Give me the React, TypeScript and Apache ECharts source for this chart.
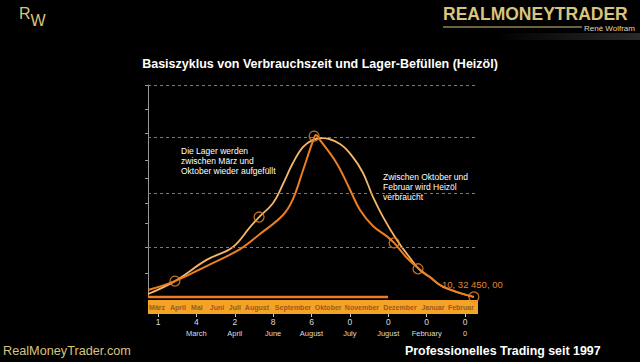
import React, { useEffect, useRef } from "react";
import * as echarts from "echarts";

// month band labels (x axis of the plot, in month units)
const months = ["März", "April", "Mai", "Juni", "Juli", "August", "September", "Oktober", "November", "Dezember", "Januar", "Februar"];
const monthTickAt = [0.33, 1.09, 1.78, 2.51, 3.16, 3.96, 5.27, 6.55, 7.78, 9.16, 10.36, 11.38];

// lower tick row
const tickTop = ["1", "4", "2", "8", "6", "0", "0", "0", "0"];
const tickBottom = ["", "March", "April", "June", "August", "July", "Jugust", "February", "0"];

// y axis tick values and dashed grid levels
const yTicks = [100, 88.7, 77.4, 64.6, 56.1, 44.3, 34.9, 23.6, 11.3];
const gridLevels = [23.6, 49.1, 75.5, 100];

// curves [month, level]
const darkCurve = [
  [0, 3.3], [0.98, 7.5], [2.13, 14.6], [3.35, 22.6], [4.07, 29.7], [4.91, 38.7], [5.27, 46.2],
  [5.64, 59.9], [6.0, 73.6], [6.11, 76.4], [6.25, 74.1], [6.86, 63.1], [7.35, 50.5], [7.71, 41.0],
  [8.18, 33.5], [8.69, 28.6], [8.95, 25.5], [9.42, 18.4], [9.82, 13.7], [10.25, 9.4], [10.73, 4.9], [11.85, 0],
];
const lightCurve = [
  [0, 1.4], [0.98, 7.5], [2.13, 17.5], [3.09, 23.6], [3.71, 33.0], [4.04, 37.7], [4.55, 44.3],
  [4.91, 53.3], [5.27, 63.2], [5.64, 70.8], [6.0, 74.1], [6.33, 75.0], [6.98, 72.2], [7.45, 66.0],
  [7.82, 58.5], [8.18, 47.2], [8.55, 37.7], [9.05, 26.9], [9.53, 18.4], [9.89, 12.7], [10.25, 9.4],
  [10.73, 4.7], [11.85, 0],
];
const markerPoints = [[0.98, 7.5], [4.04, 37.7], [6.04, 75.9], [8.95, 25.5], [9.82, 13.3], [11.85, 0]];
const baseLine = [[0, 0], [8.73, 0]];

const FONT = "Liberation Sans, Arial, sans-serif";
const GOLD = "#d8c47c";
const DARK = "#ec7f22";
const LIGHT = "#f6b766";

export default function App() {
  const ref = useRef<HTMLDivElement>(null);
  useEffect(() => {
    const chart = echarts.init(ref.current!, null, { renderer: "svg" });
    chart.setOption({
      animation: false,
      backgroundColor: "#000",
      title: {
        text: "Basiszyklus von Verbrauchszeit und Lager-Befüllen (Heizöl)",
        left: "center",
        top: 52,
        textStyle: { color: "#fff", fontSize: 12.5, fontWeight: "bold", fontFamily: FONT },
      },
      grid: [
        { left: 148, right: 162, top: 85, bottom: 65 },
        { left: 158, right: 175, top: 85, bottom: 48 },
      ],
      xAxis: [
        {
          type: "value", gridIndex: 0, min: 0, max: 12, position: "bottom", offset: 10,
          axisLine: { show: true, onZero: false, lineStyle: { color: "#f5a326", width: 14, cap: "butt" } },
          axisTick: { show: false },
          splitLine: { show: false },
          axisLabel: {
            customValues: monthTickAt,
            formatter: (v: number) => months[monthTickAt.indexOf(v)] ?? "",
            color: "#9a5a1c", fontSize: 7, fontWeight: "bold", fontFamily: FONT,
            verticalAlign: "middle", margin: 0,
          },
        },
        {
          type: "category", gridIndex: 1, data: tickTop, boundaryGap: false,
          axisLine: { show: false, onZero: false },
          axisTick: { show: true, length: 3, interval: 0, lineStyle: { color: "#ccc" } },
          axisLabel: {
            interval: 0, margin: 2, color: "#ddd", fontFamily: FONT,
            formatter: (_v: string, i: number) => `{a|${tickTop[i]}}\n{b|${tickBottom[i] || " "}}`,
            rich: {
              a: { fontSize: 8.5, lineHeight: 11.6, color: "#ddd", fontFamily: FONT },
              b: { fontSize: 7.5, lineHeight: 11.6, color: "#ddd", fontFamily: FONT },
            },
          },
        },
      ],
      yAxis: [
        {
          type: "value", gridIndex: 0, min: 0, max: 100,
          axisLine: { show: true, lineStyle: { color: "#999", width: 1 } },
          axisTick: { show: true, customValues: yTicks, length: 3, lineStyle: { color: "#999" } },
          axisLabel: { show: false },
          splitLine: { show: false },
        },
        { type: "value", gridIndex: 1, show: false, min: 0, max: 100 },
      ],
      series: [
        {
          type: "line", xAxisIndex: 0, yAxisIndex: 0, data: darkCurve, smooth: 0.4,
          showSymbol: false, clip: false, lineStyle: { color: DARK, width: 2 }, z: 3,
          markLine: {
            silent: true, symbol: "none", label: { show: false },
            lineStyle: { color: "#7a7a7a", type: [3, 3], width: 1 },
            data: gridLevels.map((v) => ({ yAxis: v })),
          },
        },
        {
          type: "line", xAxisIndex: 0, yAxisIndex: 0, data: lightCurve, smooth: 0.4,
          showSymbol: false, clip: false, lineStyle: { color: LIGHT, width: 1.8 }, z: 2,
        },
        {
          type: "line", xAxisIndex: 0, yAxisIndex: 0, data: baseLine,
          showSymbol: false, clip: false, lineStyle: { color: DARK, width: 2.5 },
        },
        {
          type: "scatter", xAxisIndex: 0, yAxisIndex: 0, data: markerPoints, symbolSize: 10, clip: false,
          itemStyle: { color: "rgba(0,0,0,0)", borderColor: "#ee8a2c", borderWidth: 1.3 }, z: 4,
        },
      ],
      graphic: [
        {
          type: "text", x: 19, y: 5,
          style: {
            text: "{r|R}{w|W}", fill: GOLD, fontFamily: FONT,
            rich: {
              r: { fontSize: 16, lineHeight: 23, verticalAlign: "top", fill: GOLD, fontFamily: FONT },
              w: { fontSize: 16, lineHeight: 23, verticalAlign: "bottom", fill: GOLD, fontFamily: FONT },
            },
          },
        },
        { type: "text", x: 443, y: 5, style: { text: "REALMONEYTRADER", fill: GOLD, fontSize: 17.5, fontWeight: "bold", fontFamily: FONT } },
        { type: "line", shape: { x1: 443, y1: 27, x2: 582, y2: 27 }, style: { stroke: GOLD, lineWidth: 1 } },
        { type: "text", x: 584, y: 28, style: { text: "René Wolfram", fill: "#e0d8b0", fontSize: 8, fontFamily: FONT, verticalAlign: "middle" } },
        {
          type: "rect", shape: { x: 495, y: 33, width: 145, height: 7 },
          style: { fill: new echarts.graphic.LinearGradient(0, 0, 1, 0, [{ offset: 0, color: "#000" }, { offset: 1, color: "#2a2a2a" }]) },
        },
        {
          type: "text", x: 181, y: 146,
          style: { text: "Die Lager werden\nzwischen März und\nOktober wieder aufgefüllt", fill: "#fff", fontSize: 8.5, lineHeight: 10, fontFamily: FONT, verticalAlign: "top" },
        },
        {
          type: "text", x: 383, y: 172,
          style: { text: "Zwischen Oktober und\nFebruar wird Heizöl\nverbraucht", fill: "#fff", fontSize: 8.5, lineHeight: 10, fontFamily: FONT, verticalAlign: "top" },
        },
        { type: "text", x: 442, y: 284, style: { text: "10, 32 450, 00", fill: "#e8822a", fontSize: 9.5, fontFamily: FONT, verticalAlign: "middle" } },
        { type: "text", x: 3, y: 351, style: { text: "RealMoneyTrader.com", fill: GOLD, fontSize: 12.7, fontFamily: FONT, verticalAlign: "middle" } },
        { type: "text", x: 405, y: 351, style: { text: "Professionelles Trading seit 1997", fill: "#fff", fontSize: 12.4, fontWeight: "bold", fontFamily: FONT, verticalAlign: "middle" } },
      ],
    });
    return () => chart.dispose();
  }, []);
  return (
    <div
      ref={ref}
      style={{ position: "fixed", left: 0, top: 0, width: 640, height: 362, background: "#000" }}
    />
  );
}
